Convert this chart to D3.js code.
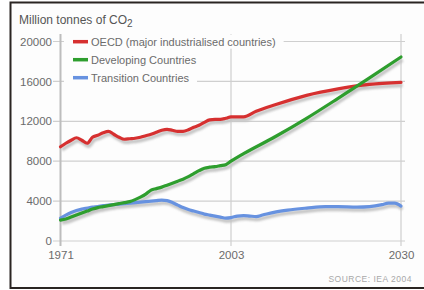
<!DOCTYPE html>
<html>
<head>
<meta charset="utf-8">
<script src="https://cdn.jsdelivr.net/npm/d3@7"></script>
<style>
  body { margin: 0; background: #fff; }
  text { font-family: "Liberation Sans", Arial, sans-serif; }
</style>
</head>
<body>
<div id="chart"></div>
<script>
// data (million tonnes of CO2)
var oecdYears  = [1971,1972,1973,1974,1975,1976,1977,1978,1979,1980,1981,1982,1983,1984,1985,1986,1987,1988,1989,1990,1991,1992,1993,1994,1995,1996,1997,1998,1999,2000,2001,2002,2003,2005,2007,2010,2015,2020,2025,2030];
var oecdValues = [9450,9800,10100,10350,10100,9800,10400,10600,10850,11000,10700,10400,10200,10250,10300,10400,10550,10700,10900,11100,11200,11100,11000,11000,11150,11400,11600,11900,12150,12200,12200,12300,12450,12450,13000,13650,14600,15250,15700,15900];

var devYears  = [1971,1972,1973,1974,1975,1976,1977,1978,1979,1980,1981,1982,1983,1984,1985,1986,1987,1988,1989,1990,1991,1992,1993,1994,1995,1996,1997,1998,1999,2000,2001,2002,2003,2005,2010,2015,2020,2025,2030];
var devValues = [2100,2200,2400,2600,2800,3000,3200,3350,3450,3550,3650,3750,3850,3950,4150,4400,4700,5100,5250,5400,5600,5800,6000,6200,6450,6750,7050,7300,7400,7450,7550,7650,8000,8750,10450,12300,14300,16350,18450];

var transYears  = [1971,1972,1973,1974,1975,1976,1977,1978,1979,1980,1981,1982,1983,1984,1985,1986,1987,1988,1989,1990,1991,1992,1993,1994,1995,1996,1997,1998,1999,2000,2001,2002,2003,2004,2005,2006,2007,2008,2010,2012,2015,2018,2020,2023,2025,2027,2028,2029,2030];
var transValues = [2300,2600,2850,3050,3200,3300,3400,3450,3550,3600,3650,3700,3750,3800,3850,3900,3950,4000,4050,4100,4050,3850,3600,3350,3150,3000,2850,2700,2600,2500,2400,2300,2350,2500,2550,2500,2450,2600,2900,3100,3300,3450,3450,3400,3450,3650,3800,3800,3500];

var seriesNames  = ["OECD (major industrialised countries)", "Developing Countries", "Transition Countries"];
var seriesColors = ["#d63030", "#2e9e2e", "#6792e0"];
var yTicks = [0, 4000, 8000, 12000, 16000, 20000];
var xTicks = [1971, 2003, 2030];

var W = 424, H = 290;
var svg = d3.select("#chart").append("svg")
  .attr("width", W)
  .attr("height", H);

// frame
svg.append("rect")
  .attr("x", 10).attr("y", 2).attr("width", 414).attr("height", 286)
  .attr("fill", "#fdfdfd");
svg.append("path")
  .attr("d", "M424,2.5 H10.5 V288 H424")
  .attr("fill", "none")
  .attr("stroke", "#2a2522")
  .attr("stroke-width", 2);

// historic part and projection each take half the width
var x = d3.scaleLinear().domain([1971, 2003, 2030]).range([60.5, 231, 401]);
var y = d3.scaleLinear().domain([0, 20000]).range([241, 41.5]);

var grid = svg.append("g");
grid.selectAll("line.h")
  .data(yTicks)
  .enter().append("line")
  .attr("class", "h")
  .attr("x1", 53).attr("x2", 405)
  .attr("y1", d => y(d)).attr("y2", d => y(d))
  .attr("stroke", "#cfcfcf")
  .attr("stroke-width", 1.2);
grid.selectAll("line.v")
  .data(xTicks)
  .enter().append("line")
  .attr("class", "v")
  .attr("x1", d => x(d)).attr("x2", d => x(d))
  .attr("y1", 34).attr("y2", 246)
  .attr("stroke", d => d === 1971 ? "#bdbdbd" : "#cfcfcf")
  .attr("stroke-width", d => d === 1971 ? 2 : 1.2);

// y labels
var yAxis = svg.append("g")
  .attr("transform", "translate(53,0)")
  .call(d3.axisLeft(y).tickValues(yTicks).tickSize(0).tickPadding(1).tickFormat(d3.format("d")));
yAxis.select(".domain").remove();
yAxis.selectAll("text")
  .attr("font-size", "11.5px")
  .attr("font-family", "Liberation Sans, Arial, sans-serif")
  .attr("fill", "#6b6b6b");

// x labels
var xAxis = svg.append("g")
  .attr("transform", "translate(0,248)")
  .call(d3.axisBottom(x).tickValues(xTicks).tickSize(0).tickPadding(3).tickFormat(d3.format("d")));
xAxis.select(".domain").remove();
xAxis.selectAll("text")
  .attr("font-size", "11.5px")
  .attr("font-family", "Liberation Sans, Arial, sans-serif")
  .attr("fill", "#6b6b6b");

// title
var title = svg.append("text")
  .attr("x", 19)
  .attr("y", 24)
  .attr("font-size", "12px")
  .attr("fill", "#555")
  .text("Million tonnes of CO");
title.append("tspan")
  .attr("dy", 2.5)
  .attr("font-size", "10px")
  .text("2");

// lines with a soft grey shadow
var series = [
  {years: oecdYears, values: oecdValues},
  {years: devYears, values: devValues},
  {years: transYears, values: transValues}
];
var line = d3.line()
  .x(d => x(d[0]))
  .y(d => y(d[1]))
  .curve(d3.curveMonotoneX);

var defs = svg.append("defs");
defs.append("filter").attr("id", "blur")
  .append("feGaussianBlur").attr("stdDeviation", 0.9);

var shadows = svg.append("g")
  .attr("transform", "translate(1.5,3)")
  .attr("filter", "url(#blur)");
series.forEach(function(s) {
  shadows.append("path")
    .datum(d3.zip(s.years, s.values))
    .attr("d", line)
    .attr("fill", "none")
    .attr("stroke", "#c4c4c4")
    .attr("stroke-width", 3.5);
});
var lines = svg.append("g");
// draw transition first so developing sits on top, as in the picture
[2, 0, 1].forEach(function(i) {
  lines.append("path")
    .datum(d3.zip(series[i].years, series[i].values))
    .attr("d", line)
    .attr("fill", "none")
    .attr("stroke", seriesColors[i])
    .attr("stroke-width", 3.2)
    .attr("stroke-linejoin", "round")
    .attr("stroke-linecap", "round");
});

// legend
var legend = svg.append("g")
  .attr("transform", "translate(64,0)");
var rows = legend.selectAll("g")
  .data(seriesNames)
  .enter().append("g")
  .attr("transform", (d, i) => "translate(0," + (41.7 + i * 18) + ")");
rows.append("rect")
  .attr("class", "bg")
  .attr("y", -7)
  .attr("height", 14)
  .attr("fill", "#fdfdfd");
rows.append("line")
  .attr("x1", 9).attr("x2", 24)
  .attr("stroke", (d, i) => seriesColors[i])
  .attr("stroke-width", 3.5);
rows.append("text")
  .attr("x", 27)
  .attr("y", 4)
  .attr("font-size", "11px")
  .attr("fill", "#6b6b6b")
  .text(d => d);
rows.each(function() {
  var g = d3.select(this);
  var w = g.select("text").node().getComputedTextLength();
  g.select("rect.bg").attr("width", 27 + w + 8);
});

// source
svg.append("text")
  .attr("x", 412)
  .attr("y", 282)
  .attr("text-anchor", "end")
  .attr("font-size", "8.5px")
  .attr("letter-spacing", "0.5px")
  .attr("fill", "#a8a8a8")
  .text("SOURCE: IEA 2004");
</script>
</body>
</html>
